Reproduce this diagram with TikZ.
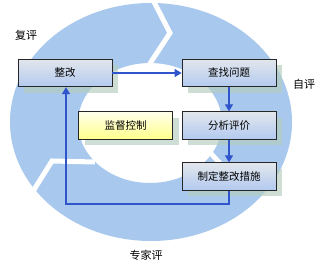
\documentclass[tikz,border=0pt]{standalone}
\usepackage{fontspec}
\newfontfamily\cjk{Noto Sans CJK SC}
\usetikzlibrary{arrows.meta,shadows}
\definecolor{ringc}{RGB}{168,200,238}
\definecolor{arrc}{RGB}{48,84,204}
\definecolor{boxtop}{RGB}{226,230,236}
\definecolor{boxmid}{RGB}{232,228,250}
\definecolor{boxbot}{RGB}{178,202,240}
\definecolor{yeltop}{RGB}{255,255,236}
\definecolor{yelbot}{RGB}{255,255,140}
\definecolor{shadc}{RGB}{180,205,190}
\begin{document}
\begin{tikzpicture}[x=1pt,y=-1pt,
  stepbox/.style={draw=black!85, line width=0.8pt, minimum width=94pt, minimum height=27.5pt,
    inner sep=0pt, font=\cjk\fontsize{10.5}{12}\selectfont,
    top color=boxtop, middle color=boxmid, bottom color=boxbot,
    drop shadow={shadow xshift=6pt, shadow yshift=-6pt, fill=shadc, opacity=0.65}},
  yelbox/.style={stepbox, top color=yeltop, middle color=yeltop!50!yelbot, bottom color=yelbot},
  lbl/.style={font=\cjk\fontsize{11}{13}\selectfont, inner sep=0pt},
  arrow/.style={draw=arrc, line width=1.2pt, -{Triangle[length=7pt,width=8pt]}},
  gap/.style={draw=white, line width=5pt, line join=miter}
]
\useasboundingbox (0,0) rectangle (326,272);
\fill[white] (0,0) rectangle (326,272);
% ring
\fill[ringc, even odd rule] (151,122) ellipse [x radius=141pt, y radius=119pt]
  (150,123) ellipse [x radius=72pt, y radius=60pt];
% gaps
\draw[gap] (151,-4) -- (170,33) -- (147,68);
\draw[gap] (30,196) -- (52,161) -- (95,162);
\draw[gap] (204,146) -- (228,172);
% labels
\node[lbl] (fp) at (26,35) {复评};
\node[lbl] (zp) at (304,84) {自评};
\node[lbl] (jp) at (146,255) {专家评};
% boxes
\node[stepbox] (zg) at (65,73) {整改};
\node[stepbox] (cz) at (229,73) {查找问题};
\node[stepbox] (fx) at (229,125.5) {分析评价};
\node[stepbox] (zd) at (229,176.5) {制定整改措施};
\node[yelbox] (jd) at (125.5,125.5) {监督控制};
% arrows
\coordinate (c2) at (66,204);
\draw[arrow] (zg.east) -- (cz.west);
\draw[arrow] (cz.south) -- (fx.north);
\draw[arrow] (fx.south) -- (zd.north);
\draw[arrow] (zd.south) |- (c2) -- (c2 |- zg.south);
\end{tikzpicture}
\end{document}
